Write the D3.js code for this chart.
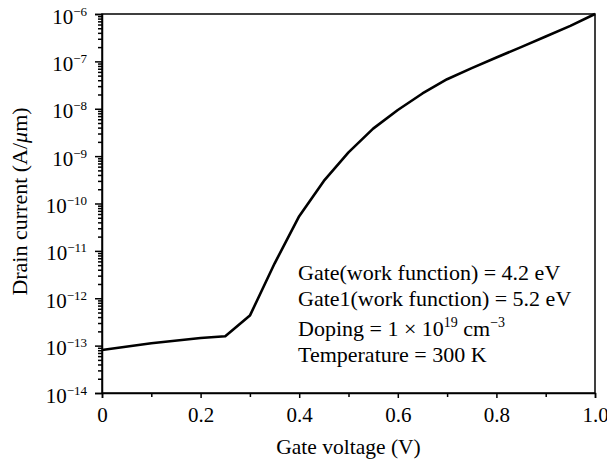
<!DOCTYPE html>
<html>
<head>
<meta charset="utf-8">
<script src="https://cdn.jsdelivr.net/npm/d3@7"></script>
<style>
  body { margin: 0; background: #fff; }
  svg { font-family: "Liberation Serif", "Times New Roman", serif; }
  .axis path, .axis line { stroke: #000; stroke-width: 1.5; }
</style>
</head>
<body>
<div id="chart"></div>
<script>
var width = 607;
var height = 462;

// gate voltage (V) and drain current (A/um)
var voltage = [0, 0.1, 0.2, 0.25, 0.3, 0.35, 0.4, 0.45, 0.5, 0.55, 0.6, 0.65, 0.7, 0.75, 0.8, 0.85, 0.9, 0.95, 1.0];
var current = [8.1e-14, 1.12e-13, 1.45e-13, 1.58e-13, 4.3e-13, 5.4e-12, 5.4e-11, 3.0e-10, 1.2e-9, 3.8e-9,
               9.4e-9, 2.1e-8, 4.2e-8, 7.2e-8, 1.21e-7, 2.0e-7, 3.35e-7, 5.6e-7, 1.0e-6];

var xTicks = [0, 0.2, 0.4, 0.6, 0.8, 1.0];
var xMinor = [0.1, 0.3, 0.5, 0.7, 0.9];
var yExponents = [-14, -13, -12, -11, -10, -9, -8, -7, -6];

var notes = [
  [{t: "Gate(work function) = 4.2 eV"}],
  [{t: "Gate1(work function) = 5.2 eV"}],
  [{t: "Doping = 1 \u00d7 10"}, {t: "19", sup: true}, {t: " cm"}, {t: "\u22123", sup: true}],
  [{t: "Temperature = 300 K"}]
];

var plotLeft = 102, plotRight = 595, plotTop = 14, plotBottom = 393;

var svg = d3.select("#chart")
  .append("svg")
  .attr("width", width)
  .attr("height", height);

var xScale = d3.scaleLinear().domain([0, 1]).range([plotLeft, plotRight]);
var yScale = d3.scaleLog().domain([1e-14, 1e-6]).range([plotBottom, plotTop]);

// minor ticks on the log axis (2..9 of each decade)
var yMinor = [];
yExponents.slice(0, -1).forEach(function (e) {
  for (var k = 2; k <= 9; k++) yMinor.push(k * Math.pow(10, e));
});

// frame
svg.append("rect")
  .attr("x", plotLeft)
  .attr("y", plotTop)
  .attr("width", plotRight - plotLeft)
  .attr("height", plotBottom - plotTop)
  .attr("fill", "none")
  .attr("stroke", "#000")
  .attr("stroke-width", 1.5);

// x axis
var xAxis = d3.axisBottom(xScale)
  .tickValues(xTicks)
  .tickSize(5)
  .tickPadding(9)
  .tickFormat(function (d) { return d === 0 ? "0" : d3.format(".1f")(d); });

var gx = svg.append("g")
  .attr("class", "axis")
  .attr("transform", "translate(0," + plotBottom + ")")
  .call(xAxis);
gx.selectAll("text").attr("font-size", "21px").attr("fill", "#000")
  .style("font-family", "Liberation Serif");

svg.append("g")
  .attr("class", "axis")
  .attr("transform", "translate(0," + plotBottom + ")")
  .call(d3.axisBottom(xScale).tickValues(xMinor).tickSize(4).tickFormat(""))
  .select(".domain").remove();

// y axis
var gy = svg.append("g")
  .attr("class", "axis")
  .attr("transform", "translate(" + plotLeft + ",0)")
  .call(d3.axisLeft(yScale)
    .tickValues(yExponents.map(function (e) { return Math.pow(10, e); }))
    .tickSize(7)
    .tickFormat(""));

svg.append("g")
  .attr("class", "axis")
  .attr("transform", "translate(" + plotLeft + ",0)")
  .call(d3.axisLeft(yScale).tickValues(yMinor).tickSize(4).tickFormat(""))
  .select(".domain").remove();

gy.selectAll(".tick").each(function (d, i) {
  var t = d3.select(this).append("text")
    .attr("x", -15)
    .attr("y", 9)
    .attr("fill", "#000")
    .attr("text-anchor", "end")
    .attr("font-size", "21px")
    .style("font-family", "Liberation Serif");
  t.append("tspan").text("10");
  t.append("tspan")
    .attr("font-size", "13px")
    .attr("dy", -8)
    .text("\u2212" + Math.abs(yExponents[i]));
});

// curve
var line = d3.line()
  .x(function (d, i) { return xScale(voltage[i]); })
  .y(function (d) { return yScale(d); });

svg.append("path")
  .datum(current)
  .attr("d", line)
  .attr("fill", "none")
  .attr("stroke", "#000")
  .attr("stroke-width", 2.6)
  .attr("stroke-linejoin", "round");

// axis titles
svg.append("text")
  .attr("x", (plotLeft + plotRight) / 2)
  .attr("y", 454)
  .attr("text-anchor", "middle")
  .attr("font-size", "21.5px")
  .text("Gate voltage (V)");

var yl = svg.append("text")
  .attr("transform", "translate(27," + ((plotTop + plotBottom) / 2 - 2) + ") rotate(-90)")
  .attr("text-anchor", "middle")
  .attr("font-size", "22px");
yl.append("tspan").text("Drain current (A/");
yl.append("tspan").attr("font-style", "italic").text("\u03bc");
yl.append("tspan").text("m)");

// annotation block
var noteY = [280, 306, 336, 362];
notes.forEach(function (parts, i) {
  var t = svg.append("text")
    .attr("x", 298)
    .attr("y", noteY[i])
    .attr("font-size", "22px");
  var shifted = false;
  parts.forEach(function (p) {
    var s = t.append("tspan").text(p.t);
    if (p.sup && !shifted) { s.attr("font-size", "14px").attr("dy", -9); shifted = true; }
    else if (p.sup) { s.attr("font-size", "14px"); }
    else if (shifted) { s.attr("dy", 9); shifted = false; }
  });
});
</script>
</body>
</html>
